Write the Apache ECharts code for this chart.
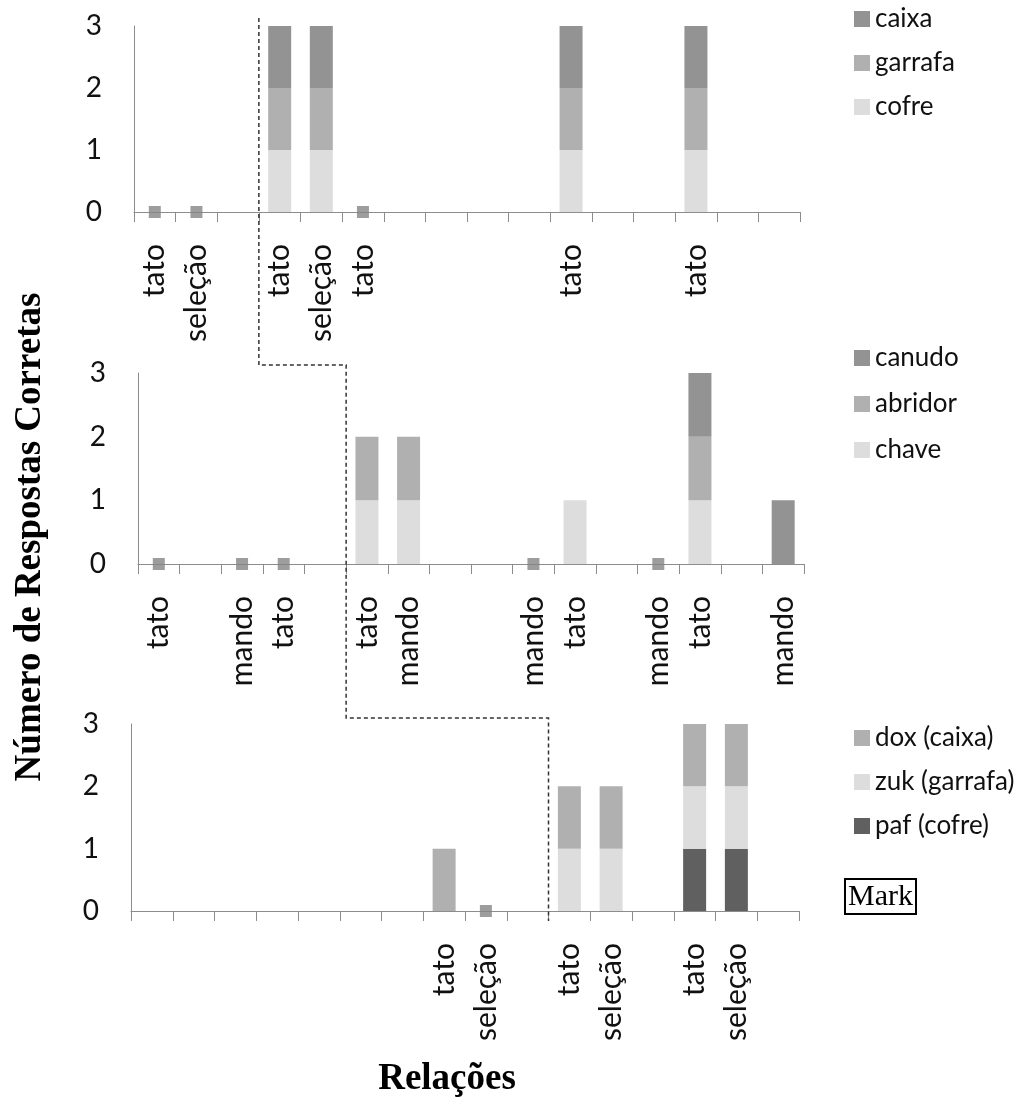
<!DOCTYPE html>
<html>
<head>
<meta charset="utf-8">
<script src="https://cdn.jsdelivr.net/npm/echarts@6/dist/echarts.min.js"></script>
<style>
html,body{margin:0;padding:0;background:#fff;}
#c{width:1018px;height:1110px;}
</style>
</head>
<body>
<div id="c"></div>
<script>
// ---------- DATA ----------
// Panel 1 (16 slots)
var p1Labels = ['tato','seleção','','tato','seleção','tato','','','','','tato','','','tato','',''];
var p1Cofre   = [null,null,null,1,1,null,null,null,null,null,1,null,null,1,null,null];
var p1Garrafa = [null,null,null,1,1,null,null,null,null,null,1,null,null,1,null,null];
var p1Caixa   = [null,null,null,1,1,null,null,null,null,null,1,null,null,1,null,null];
var p1Zero    = [0,0,null,null,null,0,null,null,null,null,null,null,null,null,null,null];

// Panel 2
var p2Labels = ['tato','','mando','tato','','tato','mando','','','mando','tato','','mando','tato','','mando'];
var p2Chave   = [null,null,null,null,null,1,1,null,null,null,1,null,null,1,null,null];
var p2Abridor = [null,null,null,null,null,1,1,null,null,null,null,null,null,1,null,null];
var p2Canudo  = [null,null,null,null,null,null,null,null,null,null,null,null,null,1,null,1];
var p2Zero    = [0,null,0,0,null,null,null,null,null,0,null,null,0,null,null,null];

// Panel 3
var p3Labels = ['','','','','','','','tato','seleção','','tato','seleção','','tato','seleção',''];
var p3Paf = [null,null,null,null,null,null,null,null,null,null,null,null,null,1,1,null];
var p3Zuk = [null,null,null,null,null,null,null,null,null,null,1,1,null,1,1,null];
var p3Dox = [null,null,null,null,null,null,null,1,null,null,1,1,null,1,1,null];
var p3Zero = [null,null,null,null,null,null,null,null,0,null,null,null,null,null,null,null];

var legend1 = ['caixa','garrafa','cofre'];
var legend2 = ['canudo','abridor','chave'];
var legend3 = ['dox (caixa)','zuk (garrafa)','paf (cofre)'];
var yTicks = [0,1,2,3];

var yTitle = 'Número de Respostas Corretas';
var xTitle = 'Relações';
var markText = 'Mark';

// ---------- STYLE ----------
var C_DARK = '#939393', C_MID = '#b0b0b0', C_LIGHT = '#dddddd', C_PAF = '#606060', C_ZERO = '#858585';
var AX = '#8c8c8c';
var SANS = 'Lato';

function zeroPts(arr){
  var out = [];
  arr.forEach(function(v,i){ if (v !== null) out.push([i, v]); });
  return out;
}

var grids = [
  {left:134, top:26, width:666, height:186},
  {left:138, top:373, width:666, height:191},
  {left:131, top:724, width:668, height:187}
];
var labelsByPanel = [p1Labels, p2Labels, p3Labels];

var xAxes = labelsByPanel.map(function(lbls, k){
  return {
    type:'category', gridIndex:k, data:lbls,
    axisLine:{show:true, lineStyle:{color:AX, width:1}},
    axisTick:{show:true, interval:0, length:10, lineStyle:{color:AX}},
    axisLabel:{interval:0, rotate:90, margin:32, fontFamily:SANS, fontSize:30, color:'#111'}
  };
});
var yAxes = [0,1,2].map(function(k){
  return {
    type:'value', gridIndex:k, min:yTicks[0], max:yTicks[yTicks.length-1], interval:1,
    axisLine:{show:true, lineStyle:{color:AX, width:1}},
    axisTick:{show:false}, splitLine:{show:false},
    axisLabel:{margin:32, fontFamily:SANS, fontSize:28, color:'#111'}
  };
});

function bar(name, data, k, color, stack){
  return {name:name, type:'bar', stack:stack, xAxisIndex:k, yAxisIndex:k,
    data:data, barWidth:23, itemStyle:{color:color}, emphasis:{disabled:true}};
}
function zero(name, data, k){
  return {name:name, type:'scatter', xAxisIndex:k, yAxisIndex:k, data:zeroPts(data),
    symbol:'rect', symbolSize:12, itemStyle:{color:C_ZERO}, z:5, emphasis:{disabled:true}};
}

var series = [
  bar('cofre', p1Cofre, 0, C_LIGHT, 's1'),
  bar('garrafa', p1Garrafa, 0, C_MID, 's1'),
  bar('caixa', p1Caixa, 0, C_DARK, 's1'),
  zero('zero1', p1Zero, 0),
  bar('chave', p2Chave, 1, C_LIGHT, 's2'),
  bar('abridor', p2Abridor, 1, C_MID, 's2'),
  bar('canudo', p2Canudo, 1, C_DARK, 's2'),
  zero('zero2', p2Zero, 1),
  bar('paf (cofre)', p3Paf, 2, C_PAF, 's3'),
  bar('zuk (garrafa)', p3Zuk, 2, C_LIGHT, 's3'),
  bar('dox (caixa)', p3Dox, 2, C_MID, 's3'),
  zero('zero3', p3Zero, 2)
];

function legend(data, top, gap){
  return {data:data, orient:'vertical', left:849, top:top, icon:'rect',
    itemWidth:16, itemHeight:16, itemGap:gap, selectedMode:false,
    textStyle:{fontFamily:SANS, fontSize:26, color:'#111', lineHeight:30}};
}

var chart = echarts.init(document.getElementById('c'), null, {renderer:'canvas'});
chart.setOption({
  animation:false,
  backgroundColor:'#fff',
  grid:grids,
  xAxis:xAxes,
  yAxis:yAxes,
  legend:[legend(legend1, -1, 14), legend(legend2, 338, 16), legend(legend3, 718, 14)],
  series:series
});

// Dashed separator following category boundaries
function boundary(k, idx){
  var a = chart.convertToPixel({xAxisIndex:k}, idx);
  var b = chart.convertToPixel({xAxisIndex:k}, idx-1);
  return (a+b)/2;
}
var x1 = boundary(0, 3), x2 = boundary(1, 5), x3 = boundary(2, 10);
var yA = chart.convertToPixel({yAxisIndex:0}, 3) - 8;
var yB = chart.convertToPixel({yAxisIndex:1}, 3) - 8;
var yC = chart.convertToPixel({yAxisIndex:2}, 3) - 6;
var yD = chart.convertToPixel({yAxisIndex:2}, 0) + 10;

chart.setOption({
  graphic:[
    {id:'ytitle', type:'text', x:30, y:537, rotation:Math.PI/2,
      style:{text:yTitle, font:'bold 37px "Liberation Serif"', fill:'#000', textAlign:'center', textVerticalAlign:'middle'}},
    {id:'xtitle', type:'text', x:447, y:1079,
      style:{text:xTitle, font:'bold 37px "Liberation Serif"', fill:'#000', textAlign:'center', textVerticalAlign:'middle'}},
    {id:'markbox', type:'rect', shape:{x:845, y:879, width:71, height:35}, style:{fill:'#fff', stroke:'#000', lineWidth:2}},
    {id:'marktext', type:'text', x:880.5, y:897,
      style:{text:markText, font:'30px "Liberation Serif"', fill:'#000', textAlign:'center', textVerticalAlign:'middle'}},
    {id:'sep', type:'polyline', z:10, shape:{points:[[x1,yA],[x1,yB],[x2,yB],[x2,yC],[x3,yC],[x3,yD]]},
      style:{stroke:'#333', lineWidth:1.5, lineDash:[4,3], fill:null}}
  ]
});
</script>
</body>
</html>
